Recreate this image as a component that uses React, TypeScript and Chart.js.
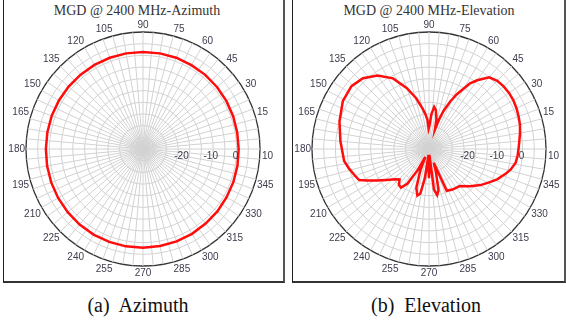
import { useEffect, useRef } from "react";
import { Chart, registerables } from "chart.js";
Chart.register(...registerables);

// angle labels shown around the rim (degrees, counter-clockwise from east)
const angleTicks = [15, 30, 45, 60, 75, 90, 105, 120, 135, 150, 165, 180, 195, 210, 225, 240, 255, 270, 285, 300, 315, 330, 345];
// radial (dB) labels drawn along the 0° direction
const radialTicks = [-20, -10, 0, 10];
const rMin = -30;
const rMax = 10;
const ringStep = 4;

// Azimuth cut (dBi)
const azAngles = [0, 10, 20, 30, 40, 50, 60, 70, 80, 90, 100, 110, 120, 130, 140, 150, 160, 170, 180, 190, 200, 210, 220, 230, 240, 250, 260, 270, 280, 290, 300, 310, 320, 330, 340, 350];
const azGain = [2.7, 2.7, 2.8, 2.9, 3.0, 3.1, 3.1, 3.2, 3.2, 3.2, 3.2, 3.2, 3.2, 3.2, 3.2, 3.2, 3.2, 3.2, 3.2, 3.3, 3.4, 3.5, 3.6, 3.7, 3.8, 3.8, 3.8, 3.8, 3.7, 3.6, 3.5, 3.3, 3.2, 3.0, 2.9, 2.8];

// Elevation cut (dBi)
const elAngles = [0, 5, 10, 15, 20, 25, 30, 35, 40, 45, 50, 55, 58, 60, 63, 66, 69, 71, 73, 76, 80, 83, 86, 89, 91, 93, 96, 99, 104, 110, 117, 125, 133, 141, 151, 163, 175, 188, 194, 201, 204, 207, 211, 216, 222, 226, 230, 234, 238, 242, 245, 248, 252, 256, 259, 262, 265, 267, 270, 272, 274, 277, 280, 283, 287, 289, 293, 300, 310, 318, 325, 331, 336, 342, 346, 351, 356];
const elGain = [0.6, 1.0, 1.6, 2.2, 2.6, 3.0, 3.3, 3.4, 3.3, 3.0, 2.0, -1.3, -3.5, -6, -9, -12.3, -16, -19, -23, -19.5, -16.5, -15.5, -18, -22, -23, -20, -18, -16, -12.2, -7.9, -2.9, 0.7, 3.1, 4.1, 3.7, 2.0, 0.4, -0.7, -1.9, -3.3, -3.9, -6.2, -9.1, -12, -14.5, -15.5, -14, -13.7, -16, -22, -27, -22, -16, -13.6, -14.5, -20, -28, -25, -20, -25, -28, -16, -14, -15.5, -22, -25, -14.5, -14, -13.5, -11, -8.5, -6.5, -4.5, -2.5, -1.2, 0, 0.4];

const categories = Array.from({ length: 360 }, (_, i) => (450 - i) % 360);

function toSeries(angles: number[], gains: number[]) {
  const out: (number | null)[] = categories.map(() => null);
  angles.forEach((a, k) => {
    const idx = (450 - a) % 360;
    out[idx] = Math.max(gains[k], rMin);
  });
  return out;
}

const radialLabelPlugin = {
  id: "radialLabels",
  afterDraw(chart: any) {
    const s = chart.scales.r;
    const ctx = chart.ctx;
    ctx.save();
    ctx.font = "10px 'Liberation Sans', Arial, sans-serif";
    ctx.fillStyle = "#3d3d4d";
    ctx.textAlign = "left";
    ctx.textBaseline = "top";
    for (const v of radialTicks) {
      const d = s.getDistanceFromCenterForValue(v);
      ctx.fillText(String(v), s.xCenter + d + 2, s.yCenter + 2);
    }
    ctx.restore();
  },
};

const CW = 272;
const CH = 260;

function PolarChart({ angles, gains, left, top }: { angles: number[]; gains: number[]; left: number; top: number }) {
  const ref = useRef<HTMLCanvasElement>(null);
  useEffect(() => {
    if (!ref.current) return;
    const ringCount = (rMax - rMin) / ringStep;
    const chart = new Chart(ref.current, {
      type: "radar",
      data: {
        labels: categories,
        datasets: [
          {
            data: toSeries(angles, gains),
            borderColor: "#ff0d0d",
            borderWidth: 2.5,
            pointRadius: 0,
            fill: false,
            spanGaps: true,
            tension: 0,
          },
        ],
      },
      options: {
        responsive: false,
        animation: false,
        devicePixelRatio: 1,
        plugins: { legend: { display: false }, tooltip: { enabled: false } },
        scales: {
          r: {
            min: rMin,
            max: rMax,
            startAngle: 0,
            ticks: { display: false, stepSize: ringStep },
            grid: {
              circular: true,
              color: (c: any) => (c.index === ringCount ? "#333333" : "#d2d2d2"),
              lineWidth: (c: any) => (c.index === ringCount ? 1.3 : 1),
            },
            angleLines: {
              color: "#d2d2d2",
              lineWidth: (c: any) => (c.index % 5 === 0 ? 1 : 0),
            },
            pointLabels: {
              font: { family: "'Liberation Sans', Arial, sans-serif", size: 10 },
              color: "#3d3d4d",
              padding: 1,
              callback: (label: any) => (angleTicks.includes(Number(label)) ? String(label) : ""),
            },
          },
        },
      },
      plugins: [radialLabelPlugin],
    });
    return () => chart.destroy();
  }, []);
  return (
    <canvas
      ref={ref}
      width={CW}
      height={CH}
      style={{ position: "absolute", left, top, width: CW, height: CH }}
    />
  );
}

export default function App() {
  const serif = "'Liberation Serif', 'Times New Roman', serif";
  return (
    <div style={{ position: "absolute", left: 0, top: 0, width: 566, height: 326, background: "#fff", overflow: "hidden" }}>
      <div style={{ position: "absolute", left: 3, top: -2, width: 279, height: 283, borderLeft: "1px solid #222", borderRight: "2px solid #555", borderBottom: "2px solid #333" }} />
      <div style={{ position: "absolute", left: 292, top: -2, width: 271, height: 283, borderLeft: "1px solid #222", borderRight: "2px solid #555", borderBottom: "2px solid #333" }} />
      <div style={{ position: "absolute", left: 37, top: 3, width: 200, textAlign: "center", font: `14px ${serif}`, color: "#333", whiteSpace: "nowrap" }}>MGD @ 2400 MHz-Azimuth</div>
      <div style={{ position: "absolute", left: 329, top: 3, width: 200, textAlign: "center", font: `14px ${serif}`, color: "#333", whiteSpace: "nowrap" }}>MGD @ 2400 MHz-Elevation</div>
      <PolarChart angles={azAngles} gains={azGain} left={5} top={19} />
      <PolarChart angles={elAngles} gains={elGain} left={291} top={19} />
      <div style={{ position: "absolute", left: 38, top: 294, width: 200, textAlign: "center", font: `20px ${serif}`, color: "#111", whiteSpace: "pre" }}>(a)  Azimuth</div>
      <div style={{ position: "absolute", left: 326, top: 294, width: 200, textAlign: "center", font: `20px ${serif}`, color: "#111", whiteSpace: "pre" }}>(b)  Elevation</div>
    </div>
  );
}
